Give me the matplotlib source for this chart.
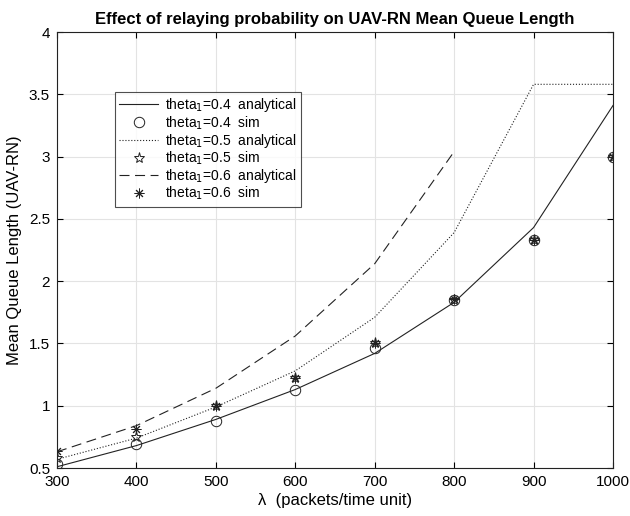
import matplotlib
matplotlib.use("Agg")
import matplotlib.pyplot as plt

plt.rcParams['font.family'] = ['Liberation Sans', 'DejaVu Sans']

lam = [300, 400, 500, 600, 700, 800, 900, 1000]
lam_06 = [300, 400, 500, 600, 700, 800]

an_04 = [0.51, 0.68, 0.89, 1.13, 1.42, 1.83, 2.43, 3.41]
sim_04 = [0.53, 0.69, 0.88, 1.13, 1.46, 1.85, 2.33, 3.00]
an_05 = [0.57, 0.74, 0.99, 1.28, 1.71, 2.39, 3.58, 3.58]
sim_05 = [0.58, 0.75, 1.00, 1.22, 1.50, 1.85, 2.33, 3.00]
an_06 = [0.63, 0.84, 1.14, 1.56, 2.14, 3.04]
sim_06 = [0.64, 0.81, 1.00, 1.22, 1.50, 1.86, 2.33, 3.00]

xticks = [300, 400, 500, 600, 700, 800, 900, 1000]
yticks = [0.5, 1, 1.5, 2, 2.5, 3, 3.5, 4]
ytick_labels = ['0.5', '1', '1.5', '2', '2.5', '3', '3.5', '4']

fig = plt.figure(figsize=(6.3, 5.16), dpi=100)
ax = fig.add_axes([57 / 630, 48 / 516, 556 / 630, 436 / 516])

lw = 0.8
c = '#222222'
ax.plot(lam, an_04, '-', color=c, lw=lw, label='theta$_1$=0.4  analytical')
ax.plot(lam, sim_04, 'o', color=c, mfc='none', ms=7.5, mew=0.7, label='theta$_1$=0.4  sim')
ax.plot(lam, an_05, ':', color=c, lw=lw, label='theta$_1$=0.5  analytical')
ax.plot(lam, sim_05, '*', color=c, mfc='none', ms=8, mew=0.7, label='theta$_1$=0.5  sim')
ax.plot(lam_06, an_06, color=c, lw=lw, dashes=(9, 5), label='theta$_1$=0.6  analytical')
ax.plot(lam, sim_06, marker=(8, 2, 0), ls='none', color=c, ms=7, mew=0.7, label='theta$_1$=0.6  sim')

ax.set_xlim(300, 1000)
ax.set_ylim(0.5, 4)
ax.set_xticks(xticks)
ax.set_yticks(yticks)
ax.set_yticklabels(ytick_labels)
ax.tick_params(direction='in', labelsize=11, length=4, pad=5, top=True, right=True,
               labeltop=False, labelright=False)
ax.grid(True, color='#e3e3e3', lw=0.8)
ax.set_axisbelow(True)
for s in ax.spines.values():
    s.set_linewidth(0.8)
    s.set_color('#222222')

ax.set_xlabel('λ  (packets/time unit)', fontsize=12, labelpad=3)
ax.set_ylabel('Mean Queue Length (UAV-RN)', fontsize=12, labelpad=5)
ax.set_title('Effect of relaying probability on UAV-RN Mean Queue Length', fontsize=12,
             fontweight='bold', pad=6)

leg = ax.legend(loc='upper left', bbox_to_anchor=((115 - 57) / 556, (468 - 92) / 436), fontsize=10,
                frameon=True, fancybox=False, edgecolor='#222222', handlelength=2.8, borderpad=0.3,
                labelspacing=0.0, handletextpad=0.5, borderaxespad=0)
leg.get_frame().set_linewidth(0.8)

fig.savefig('out.png', dpi=100)
